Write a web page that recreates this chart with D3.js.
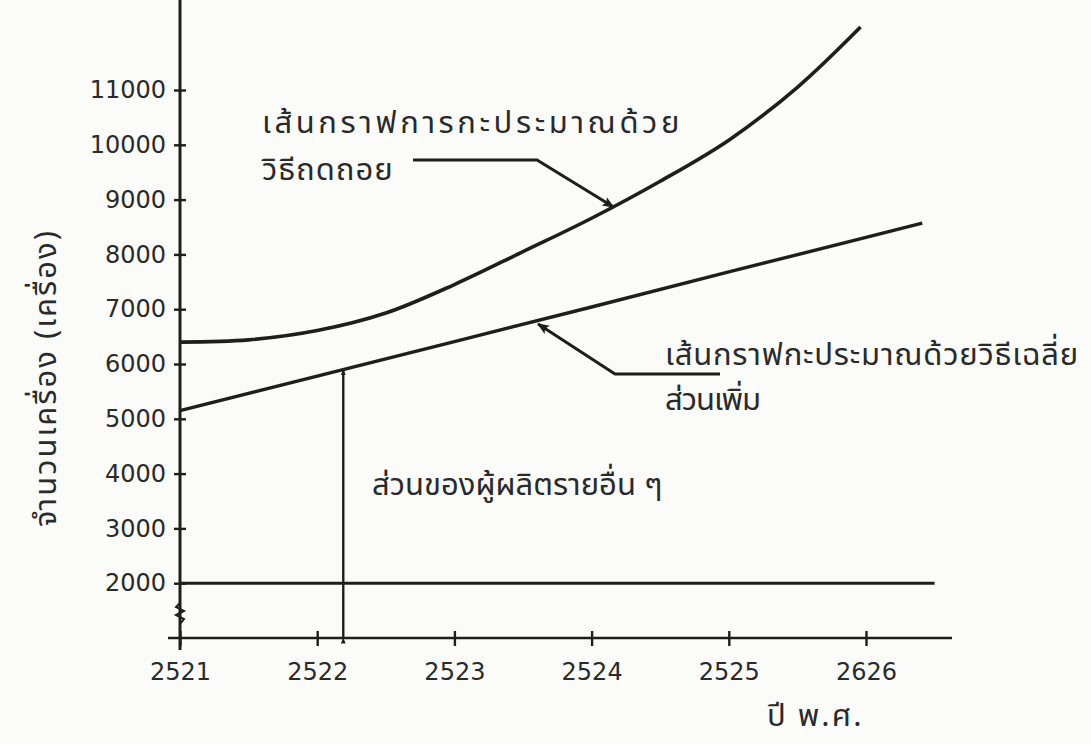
<!DOCTYPE html>
<html>
<head>
<meta charset="utf-8">
<script src="https://cdn.jsdelivr.net/npm/d3@7/dist/d3.min.js"></script>
<style>
  html, body { margin: 0; padding: 0; background: #fbfbfa; }
  svg { display: block; }
  .num { font-family: "DejaVu Sans", sans-serif; font-size: 24px; fill: #2a2a2a; }
  .thai { font-family: "Noto Sans Thai", "Noto Sans Thai UI", "Loma", "Garuda", "Tlwg Typist", "Norasi", "Noto Sans", "DejaVu Sans", sans-serif; font-size: 31px; fill: #2a2a2a; }
</style>
</head>
<body>
<svg id="chart" width="1091" height="744"></svg>
<script>
// ---------------- data ----------------
const yearTicks = [2521, 2522, 2523, 2524, 2525, 2526];
const yearTickLabels = ["2521", "2522", "2523", "2524", "2525", "2626"];
const valueTicks = [2000, 3000, 4000, 5000, 6000, 7000, 8000, 9000, 10000, 11000];

// regression (curved) estimate
const regressionYears  = [2521, 2521.5, 2522, 2522.5, 2523, 2523.5, 2524, 2524.5, 2525, 2525.5, 2525.96];
const regressionValues = [6400, 6440, 6610, 6930, 7450, 8050, 8660, 9335, 10085, 11050, 12150];

// average-increment (straight) estimate
const averageYears  = [2521, 2522, 2523, 2524, 2525, 2526, 2526.41];
const averageValues = [5150, 5780, 6410, 7040, 7680, 8310, 8570];

// other producers' baseline
const baselineYears  = [2521, 2526.5];
const baselineValues = [2000, 2000];

// share of other producers (vertical arrow)
const shareYear = 2522.19;
const shareFrom = 1000;   // axis baseline (broken axis)
const shareTo = 5900;

const yLabel = "จำนวนเครื่อง (เครื่อง)";
const xLabel = "ปี พ.ศ.";
const noteRegression = ["เส้นกราฟการกะประมาณด้วย", "วิธีถดถอย"];
const noteAverage = ["เส้นกราฟกะประมาณด้วยวิธีเฉลี่ย", "ส่วนเพิ่ม"];
const noteShare = "ส่วนของผู้ผลิตรายอื่น ๆ";

// ---------------- scales ----------------
const svg = d3.select("#chart");
const x = d3.scaleLinear().domain([2521, 2526]).range([180, 866]);
const y = d3.scaleLinear().domain([1000, 11000]).range([638, 90]);
const ink = "#1e1e1e";

const defs = svg.append("defs");
defs.append("marker").attr("id", "arrow").attr("viewBox", "0 0 10 10")
  .attr("refX", 9).attr("refY", 5).attr("markerWidth", 7).attr("markerHeight", 6)
  .attr("markerUnits", "userSpaceOnUse").attr("orient", "auto")
  .append("path").attr("d", "M0,1 L10,5 L0,9 Z").attr("fill", ink);
defs.append("marker").attr("id", "arrowBig").attr("viewBox", "0 0 10 10")
  .attr("refX", 9).attr("refY", 5).attr("markerWidth", 19).attr("markerHeight", 12)
  .attr("markerUnits", "userSpaceOnUse").attr("orient", "auto")
  .append("path").attr("d", "M0,1 L10,5 L0,9 L2,5 Z").attr("fill", ink);

// ---------------- axes ----------------
const axisY = y(1000);
svg.append("line").attr("x1", x(2521)).attr("x2", x(2521))
  .attr("y1", 0).attr("y2", axisY + 12)
  .attr("stroke", ink).attr("stroke-width", 3);
svg.append("line").attr("x1", x(2521) - 12).attr("x2", 952)
  .attr("y1", axisY).attr("y2", axisY)
  .attr("stroke", ink).attr("stroke-width", 2.6);

const yAxis = d3.axisLeft(y).tickValues(valueTicks).tickSize(0).tickPadding(14).tickFormat(d3.format("d"));
const gy = svg.append("g").attr("transform", `translate(${x(2521)},0)`).call(yAxis);
gy.select(".domain").remove();
gy.selectAll("text").attr("class", "num").attr("font-size", null).attr("font-family", null).attr("fill", null);
gy.selectAll(".tick").append("line").attr("x1", -6).attr("x2", 6).attr("stroke", ink).attr("stroke-width", 2.4);

const xAxis = d3.axisBottom(x).tickValues(yearTicks).tickSize(0).tickPadding(25)
  .tickFormat((d, i) => yearTickLabels[i]);
const gx = svg.append("g").attr("transform", `translate(0,${axisY})`).call(xAxis);
gx.select(".domain").remove();
gx.selectAll("text").attr("class", "num").attr("font-size", null).attr("font-family", null).attr("fill", null);
gx.selectAll(".tick").append("line").attr("y1", -7).attr("y2", 8).attr("stroke", ink).attr("stroke-width", 2.4);

// axis break zigzag
const zz = [[0, 603], [-4, 607], [4, 611], [-4, 615], [4, 619], [0, 624]];
svg.append("path")
  .attr("d", d3.line().x(d => x(2521) + d[0]).y(d => d[1])(zz))
  .attr("fill", "none").attr("stroke", ink).attr("stroke-width", 2);

// ---------------- series ----------------
const line = d3.line().x(d => x(d[0])).y(d => y(d[1]));
const smooth = d3.line().x(d => x(d[0])).y(d => y(d[1])).curve(d3.curveCatmullRom.alpha(0.5));

svg.append("path")
  .datum(baselineYears.map((d, i) => [d, baselineValues[i]]))
  .attr("d", line).attr("fill", "none").attr("stroke", ink).attr("stroke-width", 3);

svg.append("path")
  .datum(averageYears.map((d, i) => [d, averageValues[i]]))
  .attr("d", line).attr("fill", "none").attr("stroke", ink).attr("stroke-width", 3.4);

svg.append("path")
  .datum(regressionYears.map((d, i) => [d, regressionValues[i]]))
  .attr("d", smooth).attr("fill", "none").attr("stroke", ink).attr("stroke-width", 3.6);

svg.append("line")
  .attr("x1", x(shareYear)).attr("x2", x(shareYear))
  .attr("y1", y(shareFrom)).attr("y2", y(shareTo))
  .attr("stroke", ink).attr("stroke-width", 2.4)
  .attr("marker-end", "url(#arrow)").attr("marker-start", "url(#arrow)");

// ---------------- annotations ----------------
const regTip = [2524.16, 8865];
svg.append("path")
  .attr("d", `M413,160 L537,160 L${x(regTip[0])},${y(regTip[1])}`)
  .attr("fill", "none").attr("stroke", ink).attr("stroke-width", 3)
  .attr("marker-end", "url(#arrowBig)");
const avgTip = [2523.61, 6730];
svg.append("path")
  .attr("d", `M720,374 L615,374 L${x(avgTip[0])},${y(avgTip[1])}`)
  .attr("fill", "none").attr("stroke", ink).attr("stroke-width", 3)
  .attr("marker-end", "url(#arrowBig)");

svg.append("text").attr("class", "thai").attr("x", 262).attr("y", 133)
  .style("letter-spacing", "3.6px").text(noteRegression[0]);
svg.append("text").attr("class", "thai").attr("x", 262).attr("y", 180)
  .style("letter-spacing", "1px").text(noteRegression[1]);
svg.append("text").attr("class", "thai").attr("x", 665).attr("y", 365)
  .style("letter-spacing", "0.8px").text(noteAverage[0]);
svg.append("text").attr("class", "thai").attr("x", 665).attr("y", 410)
  .style("letter-spacing", "-1px").text(noteAverage[1]);
svg.append("text").attr("class", "thai").attr("x", 372).attr("y", 495)
  .text(noteShare);

svg.append("text").attr("class", "thai")
  .attr("transform", "translate(56,378) rotate(-90)")
  .style("letter-spacing", "2px")
  .attr("text-anchor", "middle").text(yLabel);
svg.append("text").attr("class", "thai")
  .attr("x", 767).attr("y", 726)
  .style("letter-spacing", "2px").text(xLabel);
</script>
</body>
</html>
